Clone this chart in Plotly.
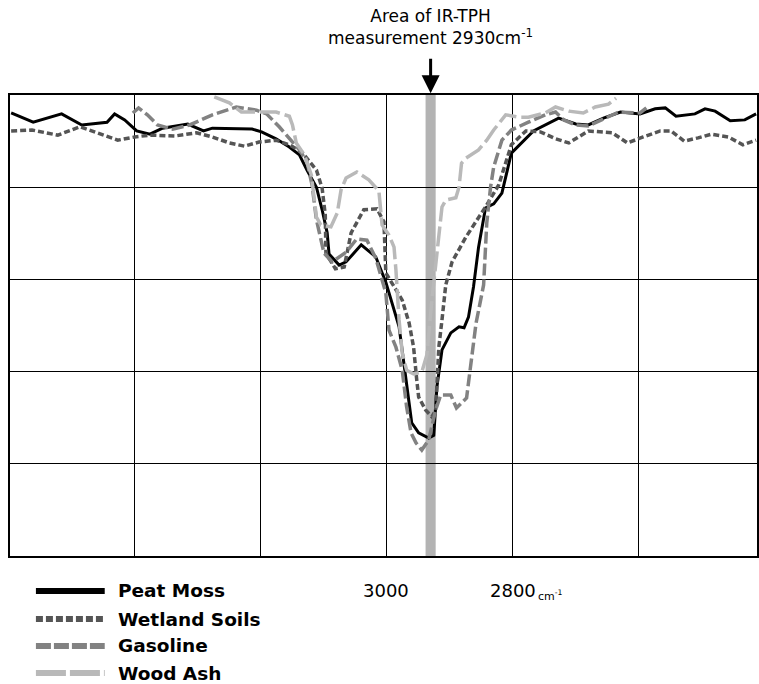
import plotly.graph_objects as go

# ---------------- data ----------------
peat_wn = [3595, 3560, 3515, 3483, 3443, 3431, 3415, 3396, 3375, 3355, 3315, 3290, 3276, 3213, 3198,
           3175, 3154, 3138, 3126, 3111, 3102, 3094, 3091, 3075, 3064, 3040, 3017, 3001, 2980, 2968,
           2960, 2949, 2933, 2925, 2920, 2912, 2898, 2885, 2877, 2870, 2862, 2854, 2843, 2830, 2817,
           2802, 2767, 2727, 2700, 2680, 2656, 2629, 2598, 2574, 2558, 2541, 2511, 2495, 2479, 2455,
           2432, 2414]
peat_t = [96.1, 94.1, 95.9, 93.5, 94.1, 95.9, 94.6, 92.2, 91.5, 92.8, 93.7, 92.2, 92.8, 92.6, 92.0,
          90.5, 88.7, 87.0, 83.7, 80.0, 75.1, 70.1, 65.5, 63.1, 63.8, 67.5, 64.9, 59.4, 49.7, 37.5,
          28.9, 26.7, 25.6, 26.2, 36.7, 44.7, 48.4, 49.7, 49.5, 51.8, 58.4, 67.0, 75.5, 76.4, 78.7,
          87.4, 92.2, 95.0, 93.7, 93.5, 95.0, 96.3, 95.9, 97.0, 97.2, 95.4, 95.9, 97.0, 96.5, 94.4,
          94.6, 95.9]

wetland_wn = [3595, 3562, 3521, 3486, 3426, 3399, 3375, 3336, 3301, 3276, 3249, 3225, 3202, 3175, 3154,
              3134, 3111, 3102, 3097, 3096, 3081, 3067, 3056, 3036, 3015, 3004, 3001, 2991, 2975, 2964,
              2957, 2952, 2949, 2938, 2928, 2922, 2917, 2912, 2906, 2896, 2874, 2843, 2822, 2802, 2779,
              2756, 2732, 2711, 2680, 2642, 2618, 2593, 2566, 2549, 2528, 2506, 2485, 2458, 2435, 2414]
wetland_t = [92.2, 92.4, 91.3, 93.1, 90.2, 90.9, 91.3, 91.1, 91.8, 90.9, 89.6, 88.9, 89.8, 90.2, 89.2,
             87.6, 83.7, 79.8, 74.0, 65.7, 62.3, 62.7, 70.1, 75.1, 75.3, 72.5, 61.4, 59.2, 55.5, 50.5,
             45.3, 38.2, 34.5, 31.7, 30.2, 31.7, 45.3, 51.2, 58.8, 63.8, 69.2, 75.7, 80.5, 89.2, 92.2,
             92.0, 90.5, 89.6, 92.2, 91.8, 89.6, 90.9, 92.2, 92.2, 90.0, 90.7, 91.5, 90.9, 89.2, 90.2]

gasoline_wn = [3402, 3393, 3379, 3363, 3339, 3312, 3276, 3238, 3206, 3190, 3170, 3151, 3138, 3126, 3118,
               3111, 3099, 3086, 3064, 3047, 3031, 3017, 3009, 3001, 2996, 2985, 2975, 2968, 2961, 2953,
               2944, 2933, 2922, 2914, 2898, 2889, 2873, 2866, 2858, 2846, 2841, 2835, 2830, 2817, 2802,
               2775, 2748, 2732, 2719, 2700, 2680, 2659, 2632, 2598, 2588]
gasoline_t = [96.1, 97.2, 95.7, 93.5, 92.6, 93.5, 95.7, 97.4, 96.7, 95.9, 93.1, 90.2, 88.1, 85.5, 80.5,
              72.9, 65.7, 63.8, 65.9, 68.8, 68.5, 64.6, 60.5, 57.1, 49.0, 45.3, 40.3, 32.3, 26.7, 24.5,
              23.0, 25.2, 31.7, 34.9, 34.9, 32.1, 34.3, 41.9, 50.5, 58.8, 72.2, 80.0, 84.4, 90.2, 92.4,
              94.1, 95.7, 96.3, 94.6, 93.5, 93.3, 94.6, 96.3, 96.1, 97.2]

woodash_wn = [3273, 3249, 3230, 3202, 3175, 3154, 3149, 3143, 3130, 3119, 3115, 3111, 3104, 3088, 3078,
              3072, 3064, 3047, 3028, 3012, 3007, 2996, 2988, 2985, 2980, 2975, 2968, 2957, 2944, 2936,
              2928, 2922, 2917, 2912, 2906, 2890, 2885, 2881, 2874, 2854, 2841, 2830, 2811, 2790, 2775,
              2748, 2732, 2711, 2688, 2669, 2648, 2636]
woodash_t = [99.6, 98.3, 96.3, 96.3, 96.3, 95.4, 93.5, 89.6, 87.0, 82.6, 77.2, 73.5, 71.8, 71.4, 74.4,
             79.4, 82.0, 83.3, 81.6, 79.2, 71.8, 69.6, 67.0, 62.0, 51.2, 44.0, 40.3, 39.5, 39.9, 43.6,
             55.5, 63.6, 70.7, 75.7, 77.2, 77.7, 80.0, 85.2, 86.3, 88.1, 90.2, 92.4, 95.7, 95.2, 95.2,
             96.1, 97.4, 96.5, 96.1, 97.4, 98.0, 99.3]

series_names = ["Peat Moss", "Wetland Soils", "Gasoline", "Wood Ash"]
grid_wn = [3400, 3200, 3000, 2800, 2600]
grid_t = [20, 40, 60, 80]
labelled_wn = [3000, 2800]
measure_wn = 2930
measure_halfwidth = 8
x_range = [3596.8, 2412.6]
y_range = [0, 100]

# ---------------- styles ----------------
FONT = "DejaVu Sans"
styles = {
    "Peat Moss": dict(color="#000000", width=3, dash="solid", leg_dash="solid"),
    "Wetland Soils": dict(color="#555555", width=3.5, dash="6px,3px", leg_dash="7px,3px"),
    "Gasoline": dict(color="#828282", width=3.5, dash="12px,4px", leg_dash="15px,3px"),
    "Wood Ash": dict(color="#b9b9b9", width=3.5, dash="20px,5px", leg_dash="30px,4px"),
}
data = {
    "Peat Moss": (peat_wn, peat_t),
    "Wetland Soils": (wetland_wn, wetland_t),
    "Gasoline": (gasoline_wn, gasoline_t),
    "Wood Ash": (woodash_wn, woodash_t),
}

fig = go.Figure()
for name in series_names:
    xs, ys = data[name]
    st = styles[name]
    fig.add_trace(go.Scatter(x=xs, y=ys, mode="lines", name=name, showlegend=False,
                             line=dict(color=st["color"], width=st["width"], dash=st["dash"])))

# measurement band
fig.add_shape(type="rect", xref="x", yref="paper",
              x0=measure_wn - measure_halfwidth, x1=measure_wn + measure_halfwidth,
              y0=0, y1=1, fillcolor="#b3b3b3", line_width=0, layer="between")

# arrow + label
fig.add_annotation(x=measure_wn, y=1.004, xref="x", yref="paper", text="", showarrow=True,
                   ax=0, ay=-36, arrowhead=2, arrowsize=1.2, arrowwidth=3, arrowcolor="#000000",
                   standoff=0)
fig.add_annotation(x=measure_wn, y=1.0975, xref="x", yref="paper", yanchor="bottom",
                   text="Area of IR-TPH<br>measurement 2930cm<sup>-1</sup>", showarrow=False,
                   font=dict(family=FONT, size=17, color="#000000"))

# x labels
fig.add_annotation(x=labelled_wn[0], y=-0.074, xref="x", yref="paper", yanchor="middle",
                   text=str(labelled_wn[0]), showarrow=False,
                   font=dict(family=FONT, size=18, color="#000000"))
fig.add_annotation(x=labelled_wn[1], y=-0.074, xref="x", yref="paper", yanchor="middle",
                   text=str(labelled_wn[1]), showarrow=False,
                   font=dict(family=FONT, size=18, color="#000000"))
fig.add_annotation(x=labelled_wn[1], y=-0.074, xref="x", yref="paper", yanchor="middle",
                   xanchor="left", xshift=23, yshift=-5,
                   text="cm<sup>-1</sup>", showarrow=False,
                   font=dict(family=FONT, size=11, color="#000000"))

# custom legend
leg_rows = [-0.0759, -0.1367, -0.1952, -0.2538]
for name, yr in zip(series_names, leg_rows):
    st = styles[name]
    fig.add_shape(type="line", xref="paper", yref="paper", x0=0.0347, x1=0.1268, y0=yr, y1=yr,
                  line=dict(color=st["color"], width=6, dash=st["leg_dash"]))
    fig.add_annotation(x=0.1429, y=yr, xref="paper", yref="paper", xanchor="left", yanchor="middle",
                       text="<b>%s</b>" % name, showarrow=False, borderpad=0,
                       font=dict(family=FONT, size=18.5, color="#000000"))

fig.update_xaxes(range=x_range, tickvals=grid_wn, showticklabels=False, ticks="",
                 showgrid=True, gridcolor="#000000", gridwidth=1, zeroline=False,
                 showline=True, mirror=True, linecolor="#000000", linewidth=2)
fig.update_yaxes(range=y_range, tickvals=grid_t, showticklabels=False, ticks="",
                 showgrid=True, gridcolor="#000000", gridwidth=1, zeroline=False,
                 showline=True, mirror=True, linecolor="#000000", linewidth=2)
fig.update_layout(width=759, height=684, margin=dict(l=10, r=0, t=95, b=128),
                  paper_bgcolor="#ffffff", plot_bgcolor="#ffffff", showlegend=False,
                  font=dict(family=FONT))
fig.write_html("out.html", config={"displayModeBar": False},
               post_script="document.body.style.margin='0px';document.body.style.overflow='hidden';")
